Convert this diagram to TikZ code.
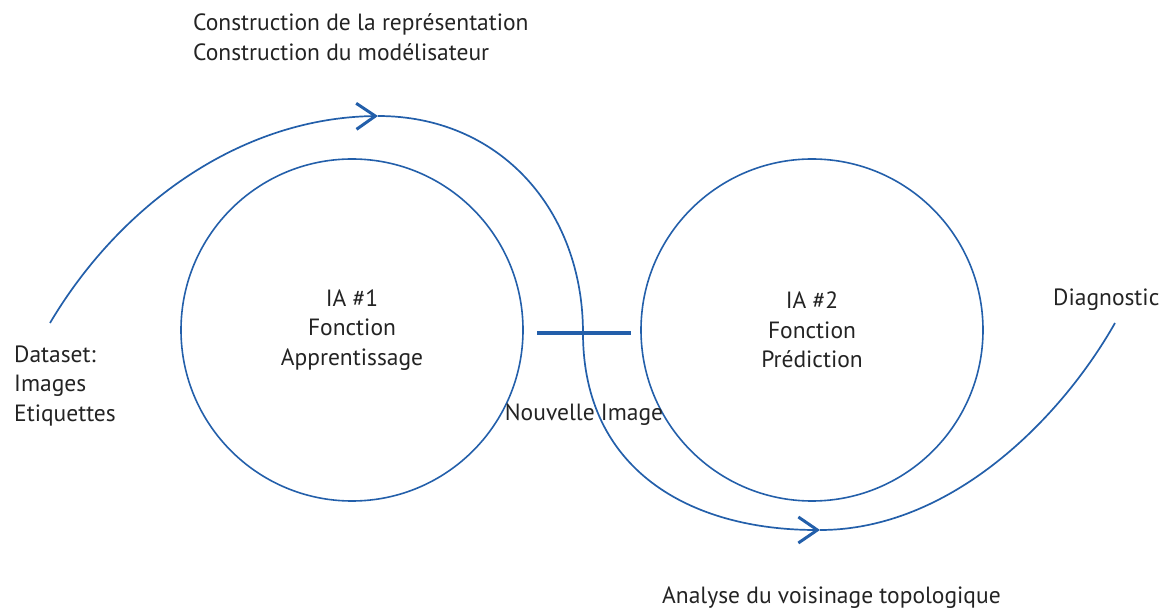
\documentclass[tikz,border=0pt]{standalone}
\usepackage{fontspec}
\setmainfont{PT Sans}
\usetikzlibrary{arrows.meta}
\definecolor{loopblue}{RGB}{35,95,170}
\definecolor{labelgray}{RGB}{35,35,35}
\tikzset{
  ring/.style={circle, draw=loopblue, line width=1.6pt, minimum size=342pt,
    inner sep=0pt, align=center, text=labelgray,
    font=\fontsize{23.5}{29.5}\selectfont},
  lbl/.style={text=labelgray, align=left, inner sep=0pt,
    font=\fontsize{23.5}{29.5}\selectfont},
  flow/.style={draw=loopblue, line width=1.7pt},
  tipped/.style={-{Straight Barb[length=19pt, width=26pt, line width=3pt]}},
  bar/.style={draw=loopblue, line width=4.5pt}
}
\begin{document}
\begin{tikzpicture}[x=1pt,y=-1pt]
  \useasboundingbox (0,0) rectangle (1163,612);
  % the two functions
  \node[ring] (ia1) at (352,330) {IA \#1\\Fonction\\Apprentissage};
  \node[ring] (ia2) at (812,330) {IA \#2\\Fonction\\Prédiction};
  % points on the loop
  \coordinate (start) at (50,323);
  \coordinate (tipA) at (378,116);
  \coordinate (cross) at (583,333);
  \coordinate (tipB) at (820,530);
  \coordinate (stop) at (1115,323);
  \draw[flow, tipped] (start) .. controls (120,205) and (240,118) .. (tipA);% learning arc
  \draw[flow] (tipA) .. controls (500,116) and (583,210) .. (cross);% down to the bar
  \draw[flow, tipped] (cross) .. controls (583,470) and (690,530) .. (tipB);% around the second
  \draw[flow] (tipB) .. controls (950,530) and (1060,420) .. (stop);% to diagnostic
  % new image bar
  \coordinate (barL) at (537,333);
  \coordinate (barR) at (631,333);
  \draw[bar] (barL) -- (barR);
  % texts
  \node[lbl, anchor=west] (constr) at (193,37) {Construction de la représentation\\Construction du modélisateur};
  \node[lbl, anchor=west] (data) at (14,386) {Dataset:\\Images\\Etiquettes};
  \node[lbl] (newimg) at (584,415) {Nouvelle Image};
  \node[lbl, anchor=west] (diag) at (1053,300) {Diagnostic};
  \node[lbl, anchor=west] (topo) at (662,598) {Analyse du voisinage topologique};
\end{tikzpicture}
\end{document}
